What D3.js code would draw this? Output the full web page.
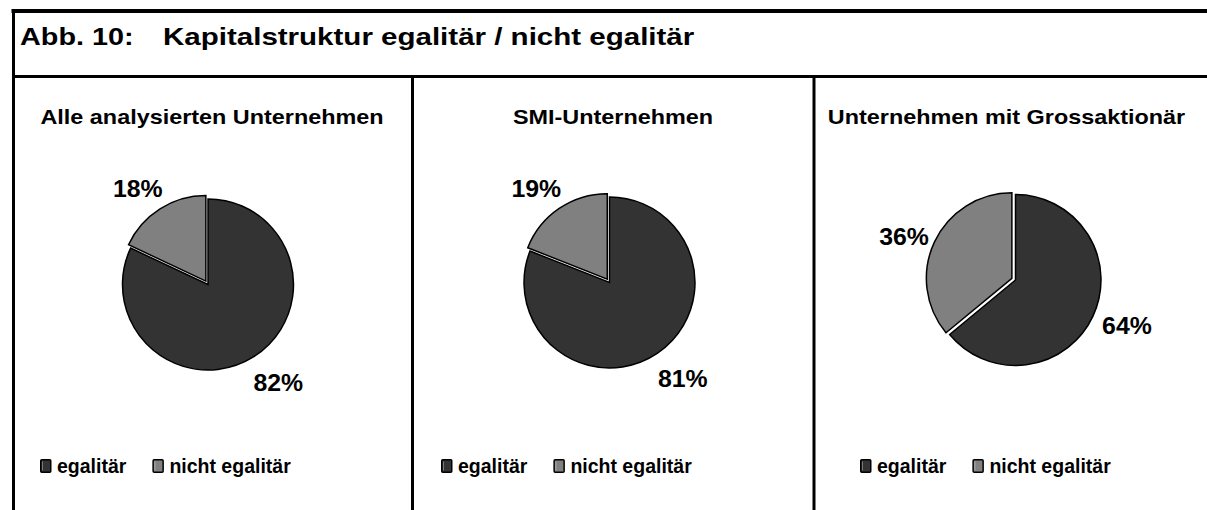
<!DOCTYPE html>
<html><head><meta charset="utf-8">
<script src="https://cdn.jsdelivr.net/npm/d3@7"></script>
<style>
html,body{margin:0;padding:0;background:#fff;}
svg{display:block;font-family:"Liberation Sans",Arial,sans-serif;font-weight:bold;}
</style></head>
<body>
<svg id="c" width="1207" height="510"></svg>
<script>
// ---- data ----
const titleNumber = "Abb. 10:";
const titleText = "Kapitalstruktur egalitär / nicht egalitär";
const categories = ["egalitär", "nicht egalitär"];
const panelTitles = ["Alle analysierten Unternehmen", "SMI-Unternehmen", "Unternehmen mit Grossaktionär"];
const valuesAll = [82, 18];
const valuesSMI = [81, 19];
const valuesGross = [64, 36];
const seriesValues = [valuesAll, valuesSMI, valuesGross];
const colors = ["#333333", "#808080"];

// ---- layout ----
const svg = d3.select("#c");
const panels = [
  {titleX: 212, cx: 208, cy: 284.5, legendX: 40},
  {titleX: 613, cx: 609.5, cy: 282.5, legendX: 441},
  {titleX: 1006.5, cx: 1015.5, cy: 280, legendX: 860}
];
const R = 85.5;

// frame
svg.append("line").attr("x1", 11.5).attr("x2", 1207).attr("y1", 11).attr("y2", 11).attr("stroke", "#000").attr("stroke-width", 4);
svg.append("line").attr("x1", 13.5).attr("x2", 13.5).attr("y1", 9).attr("y2", 510).attr("stroke", "#000").attr("stroke-width", 3);
svg.append("line").attr("x1", 12).attr("x2", 1207).attr("y1", 76.5).attr("y2", 76.5).attr("stroke", "#000").attr("stroke-width", 3);
[412.5, 814].forEach(x => svg.append("line").attr("x1", x).attr("x2", x).attr("y1", 76).attr("y2", 510).attr("stroke", "#000").attr("stroke-width", 3));

// title (glyphs slightly widened, as in the original)
svg.append("text").attr("transform", "translate(20,45) scale(1.2,1)").attr("font-size", 24).text(titleNumber);
svg.append("text").attr("transform", "translate(163,45) scale(1.23,1)").attr("font-size", 24).text(titleText);

const pie = d3.pie().sort(null).value(d => d);
const arc = d3.arc().innerRadius(0).outerRadius(R);
const labelR = 120, labelShift = -0.06;
const explode = [0, 4];

panels.forEach((p, i) => {
  const g = svg.append("g");
  g.append("text").attr("transform", `translate(${p.titleX},124) scale(1.17,1)`)
    .attr("text-anchor", "middle").attr("font-size", 20).text(panelTitles[i]);

  const arcs = pie(seriesValues[i]);
  const pg = g.append("g").attr("transform", `translate(${p.cx},${p.cy})`);
  pg.selectAll("path").data(arcs).join("path")
    .attr("d", arc)
    .attr("fill", (d, k) => colors[k])
    .attr("stroke", "#000").attr("stroke-width", 1.5).attr("stroke-linejoin", "miter")
    .attr("transform", (d, k) => {
      const a = (d.startAngle + d.endAngle) / 2;
      return `translate(${Math.sin(a) * explode[k]},${-Math.cos(a) * explode[k]})`;
    });
  pg.selectAll("text").data(arcs).join("text")
    .attr("transform", d => {
      const a = (d.startAngle + d.endAngle) / 2 + labelShift;
      return `translate(${Math.sin(a) * labelR},${-Math.cos(a) * labelR + 1}) scale(1.08,1)`;
    })
    .attr("text-anchor", "middle").attr("dy", "0.36em").attr("font-size", 23)
    .text(d => d.data + "%");

  // legend
  const lg = g.append("g").attr("transform", `translate(${p.legendX},466)`);
  let x = 0;
  categories.forEach((c, k) => {
    lg.append("rect").attr("x", x + 0.75).attr("y", -6.25).attr("width", 10).attr("height", 12.5)
      .attr("fill", colors[k]).attr("stroke", "#000").attr("stroke-width", 1.5).attr("rx", 1);
    lg.append("line").attr("x1", x + 2.5).attr("x2", x + 2.5).attr("y1", -4.5).attr("y2", 4.5)
      .attr("stroke", "#fff").attr("stroke-opacity", 0.35).attr("stroke-width", 1);
    const t = lg.append("text").attr("x", x + 17).attr("y", 6.5).attr("font-size", 19.5).text(c);
    x += 17 + t.node().getComputedTextLength() + 26;
  });
});
</script>
</body></html>
